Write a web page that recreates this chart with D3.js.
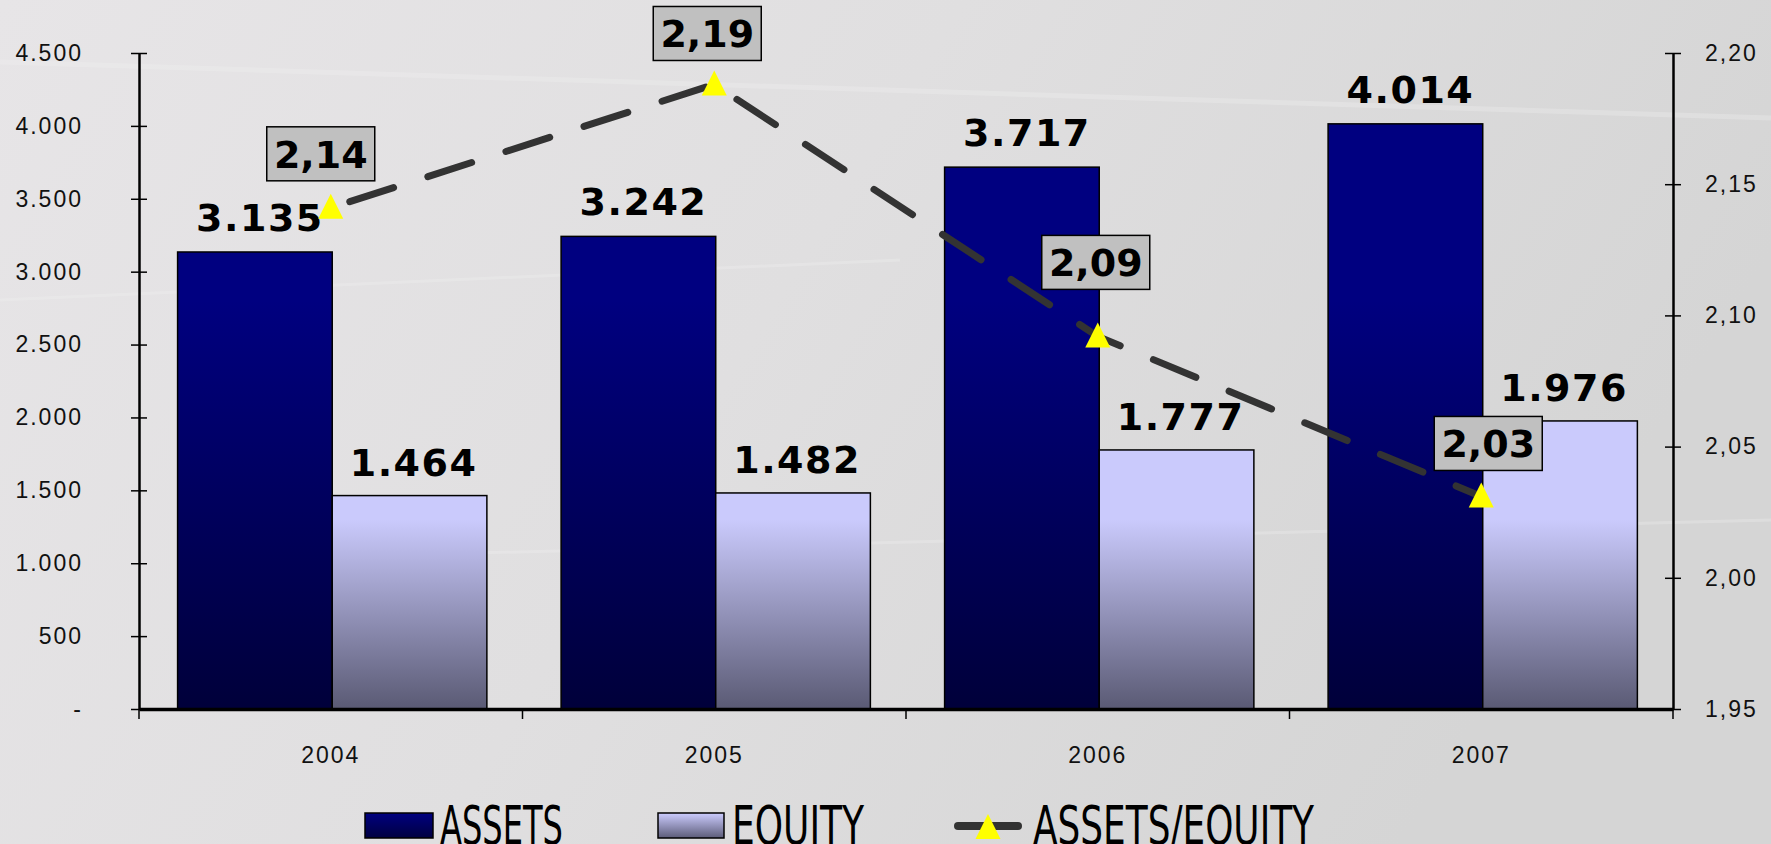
<!DOCTYPE html>
<html>
<head>
<meta charset="utf-8">
<script src="https://cdn.jsdelivr.net/npm/d3@7"></script>
<style>
  html, body { margin: 0; padding: 0; overflow: hidden; }
  body { width: 1771px; height: 844px; }
  .tick text { font-family: "Liberation Sans", Arial, sans-serif; font-size: 23px; letter-spacing: 2px; fill: #111; }
  .val { font-family: "DejaVu Sans", Verdana, sans-serif; font-weight: bold; font-size: 38px; fill: #000; }
  .leg { font-family: "Liberation Sans Narrow", "DejaVu Sans Condensed", "Liberation Sans", sans-serif; font-size: 53px; fill: #000; }
</style>
</head>
<body>
<svg id="chart" width="1771" height="844"></svg>
<script>
// data
var years = ["2004", "2005", "2006", "2007"];
var assets = [3135, 3242, 3717, 4014];
var equity = [1464, 1482, 1777, 1976];
var ratio = [2.141, 2.188, 2.092, 2.031];
var leftTicks = [0, 500, 1000, 1500, 2000, 2500, 3000, 3500, 4000, 4500];
var rightTicks = [1.95, 2.00, 2.05, 2.10, 2.15, 2.20];

// labels of the ratio were moved by hand in the original
var ratioLabelDx = [-10, -7, -2, 7];
var ratioLabelDy = [-54, -51, -74, -53];

var W = 1771, H = 844;
var plotL = 139, plotR = 1673, plotT = 53, plotB = 709;

var loc = d3.formatLocale({decimal: ",", thousands: ".", grouping: [3], currency: ["", ""]});
var fmtInt = loc.format(",d");
var fmtRatio = loc.format(".2f");

var svg = d3.select("#chart");
var defs = svg.append("defs");

// background
var bg = defs.append("linearGradient").attr("id", "bg").attr("x1", 0).attr("x2", 1).attr("y1", 0).attr("y2", 0.3);
bg.append("stop").attr("offset", 0).attr("stop-color", "#e7e5e7");
bg.append("stop").attr("offset", 0.5).attr("stop-color", "#e0dfe0");
bg.append("stop").attr("offset", 1).attr("stop-color", "#d5d5d5");

var ga = defs.append("linearGradient").attr("id", "gAssets")
  .attr("gradientUnits", "userSpaceOnUse").attr("x1", 0).attr("x2", 0).attr("y1", 300).attr("y2", plotB);
ga.append("stop").attr("offset", 0).attr("stop-color", "#000080");
ga.append("stop").attr("offset", 1).attr("stop-color", "#00003a");

var ge = defs.append("linearGradient").attr("id", "gEquity")
  .attr("gradientUnits", "userSpaceOnUse").attr("x1", 0).attr("x2", 0).attr("y1", 520).attr("y2", plotB);
ge.append("stop").attr("offset", 0).attr("stop-color", "#cacafc");
ge.append("stop").attr("offset", 1).attr("stop-color", "#5a5a74");

var gla = defs.append("linearGradient").attr("id", "gLegA").attr("x1", 0).attr("x2", 0).attr("y1", 0).attr("y2", 1);
gla.append("stop").attr("offset", 0).attr("stop-color", "#000080");
gla.append("stop").attr("offset", 1).attr("stop-color", "#000040");
var gle = defs.append("linearGradient").attr("id", "gLegE").attr("x1", 0).attr("x2", 0).attr("y1", 0).attr("y2", 1);
gle.append("stop").attr("offset", 0).attr("stop-color", "#ccccff");
gle.append("stop").attr("offset", 1).attr("stop-color", "#5c5c78");

svg.append("rect").attr("width", W).attr("height", H).attr("fill", "url(#bg)");

// faint marble streaks
var streaks = [[0, 62, 1771, 118, 5], [0, 300, 900, 260, 3], [200, 560, 1771, 520, 3]];
svg.append("g").selectAll("line").data(streaks).join("line")
  .attr("x1", d => d[0]).attr("y1", d => d[1]).attr("x2", d => d[2]).attr("y2", d => d[3])
  .attr("stroke", "#f2f2f2").attr("stroke-width", d => d[4]).attr("opacity", 0.3);

// scales
var x0 = d3.scaleBand().domain(years).range([plotL, plotR]).padding(0);
var x1 = d3.scaleBand().domain(["assets", "equity"]).range([0, x0.bandwidth()])
  .paddingInner(0).paddingOuter(0.24).align(0.52);
var yL = d3.scaleLinear().domain([0, 4500]).range([plotB, plotT]);
var yR = d3.scaleLinear().domain([1.95, 2.20]).range([plotB, plotT]);

// bars
var rows = years.map(function (y, i) { return {year: y, assets: assets[i], equity: equity[i]}; });
var groups = svg.append("g").selectAll("g").data(rows).join("g")
  .attr("transform", d => "translate(" + x0(d.year) + ",0)");

groups.append("rect")
  .attr("x", x1("assets")).attr("width", x1.bandwidth())
  .attr("y", d => yL(d.assets)).attr("height", d => plotB - yL(d.assets))
  .attr("fill", "url(#gAssets)").attr("stroke", "#000").attr("stroke-width", 1.5);
groups.append("rect")
  .attr("x", x1("equity")).attr("width", x1.bandwidth())
  .attr("y", d => yL(d.equity)).attr("height", d => plotB - yL(d.equity))
  .attr("fill", "url(#gEquity)").attr("stroke", "#000").attr("stroke-width", 1.5);

groups.append("text").attr("class", "val").attr("text-anchor", "middle")
  .attr("x", x1("assets") + x1.bandwidth() / 2 + 5).attr("y", d => yL(d.assets) - 21)
  .style("letter-spacing", "1.5px")
  .text(d => fmtInt(d.assets));
groups.append("text").attr("class", "val").attr("text-anchor", "middle")
  .attr("x", x1("equity") + x1.bandwidth() / 2 + 4).attr("y", d => yL(d.equity) - 20)
  .style("letter-spacing", "1.5px")
  .text(d => fmtInt(d.equity));

// axes
var axL = svg.append("g").attr("transform", "translate(" + plotL + ",0)")
  .call(d3.axisLeft(yL).tickValues(leftTicks).tickSizeInner(8).tickSizeOuter(0).tickPadding(48)
    .tickFormat(d => d === 0 ? "-" : fmtInt(d)));
axL.selectAll(".tick line").attr("x1", 8).attr("stroke-width", 1.5);
axL.select(".domain").attr("stroke-width", 2.5);

var axR = svg.append("g").attr("transform", "translate(" + plotR + ",0)")
  .call(d3.axisRight(yR).tickValues(rightTicks).tickSizeInner(8).tickSizeOuter(0).tickPadding(24)
    .tickFormat(fmtRatio));
axR.selectAll(".tick line").attr("x1", -8).attr("stroke-width", 1.5);
axR.selectAll(".tick text").attr("text-anchor", "start");
axR.select(".domain").attr("stroke-width", 2.5);

var axB = svg.append("g").attr("transform", "translate(0," + plotB + ")")
  .call(d3.axisBottom(x0).tickSize(0).tickPadding(38));
axB.select(".domain").attr("stroke-width", 3.5);
// tick marks between categories
var edges = years.map(d => x0(d)).concat([plotR]);
svg.append("g").selectAll("line").data(edges).join("line")
  .attr("x1", d => d).attr("x2", d => d).attr("y1", plotB).attr("y2", plotB + 10)
  .attr("stroke", "#000").attr("stroke-width", 1.5);

// ratio line
var pts = years.map(function (y, i) { return [x0(y) + x0.bandwidth() / 2, yR(ratio[i])]; });
svg.append("path").datum(pts)
  .attr("d", d3.line())
  .attr("fill", "none").attr("stroke", "#333333").attr("stroke-width", 7)
  .attr("stroke-linecap", "round").attr("stroke-dasharray", "46,36").attr("stroke-dashoffset", -20);

var tri = "M0,-14L12.5,11L-12.5,11Z";
svg.append("g").selectAll("path").data(pts).join("path")
  .attr("d", tri).attr("transform", d => "translate(" + d[0] + "," + d[1] + ")")
  .attr("fill", "#ffff00");

var lab = svg.append("g").selectAll("g").data(pts).join("g")
  .attr("transform", (d, i) => "translate(" + (d[0] + ratioLabelDx[i]) + "," + (d[1] + ratioLabelDy[i]) + ")");
lab.append("rect").attr("x", -54).attr("y", -27).attr("width", 108).attr("height", 54)
  .attr("fill", "#c0c0c0").attr("stroke", "#000").attr("stroke-width", 1.5);
lab.append("text").attr("class", "val").attr("text-anchor", "middle").attr("y", 14)
  .text((d, i) => fmtRatio(ratio[i]));

// legend
var leg = svg.append("g");
leg.append("rect").attr("x", 365).attr("y", 813).attr("width", 68).attr("height", 25)
  .attr("fill", "url(#gLegA)").attr("stroke", "#000").attr("stroke-width", 1.5);
leg.append("text").attr("class", "leg").attr("x", 440).attr("y", 844)
  .attr("textLength", 123).attr("lengthAdjust", "spacingAndGlyphs").text("ASSETS");
leg.append("rect").attr("x", 658).attr("y", 813).attr("width", 66).attr("height", 25)
  .attr("fill", "url(#gLegE)").attr("stroke", "#000").attr("stroke-width", 1.5);
leg.append("text").attr("class", "leg").attr("x", 732).attr("y", 844)
  .attr("textLength", 132).attr("lengthAdjust", "spacingAndGlyphs").text("EQUITY");
leg.append("line").attr("x1", 958).attr("x2", 1018).attr("y1", 826).attr("y2", 826)
  .attr("stroke", "#333333").attr("stroke-width", 8).attr("stroke-linecap", "round");
leg.append("path").attr("d", tri).attr("transform", "translate(988,828)").attr("fill", "#ffff00");
leg.append("text").attr("class", "leg").attr("x", 1033).attr("y", 844)
  .attr("textLength", 281).attr("lengthAdjust", "spacingAndGlyphs").text("ASSETS/EQUITY");
</script>
</body>
</html>
